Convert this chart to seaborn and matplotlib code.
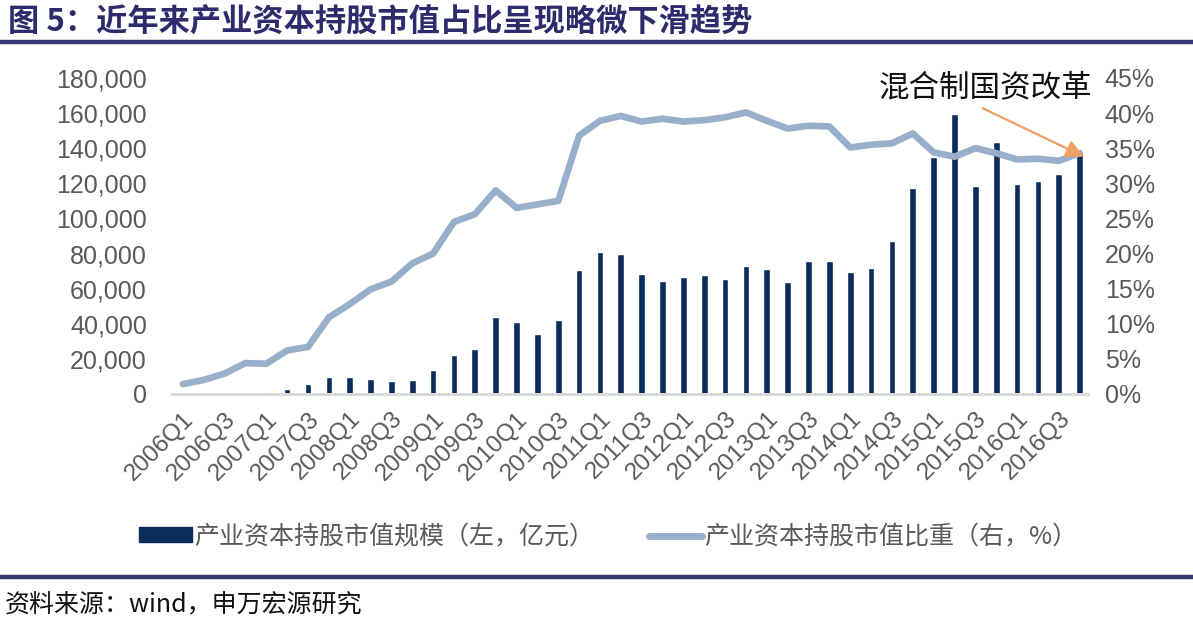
import numpy as np
import pandas as pd
import matplotlib
matplotlib.use("Agg")
import matplotlib.pyplot as plt
from matplotlib.patches import Patch
from matplotlib.lines import Line2D
from matplotlib.ticker import FuncFormatter, MultipleLocator
import seaborn as sns

# ---------------- data ----------------
quarters = [f"{y}Q{q}" for y in range(2006, 2017) for q in range(1, 5)]
market_value = [0, 0, 0, 500, 1000, 3000, 5700, 9900, 9800, 8700, 7600, 8000,
                13500, 22200, 25400, 43800, 41200, 34200, 42000, 70800, 80700, 79700,
                68200, 64300, 66800, 67800, 65300, 72900, 71400, 63600, 75900, 75600,
                69300, 71900, 87100, 117100, 135100, 159300, 118500, 143300, 119600,
                121300, 125100, 137000]
ratio_pct = [1.4, 2.0, 2.9, 4.4, 4.3, 6.2, 6.7, 10.9, 12.8, 14.9, 16.0, 18.6,
             20.0, 24.5, 25.6, 29.0, 26.5, 27.0, 27.5, 36.8, 38.9, 39.6,
             38.8, 39.2, 38.8, 39.0, 39.4, 40.1, 38.9, 37.8, 38.2, 38.1,
             35.1, 35.5, 35.7, 37.1, 34.4, 33.8, 35.0, 34.3, 33.4, 33.5, 33.2, 34.3]
tick_labels = quarters[::2]

title = "图 5：近年来产业资本持股市值占比呈现略微下滑趋势"
source = "资料来源：wind，申万宏源研究"
bar_label = "产业资本持股市值规模（左，亿元）"
line_label = "产业资本持股市值比重（右，%）"
annot_text = "混合制国资改革"

df = pd.DataFrame({"quarter": quarters, "value": market_value, "ratio": ratio_pct})

# ---------------- style ----------------
sns.set_theme(style="white")
plt.rcParams["font.family"] = ["Liberation Sans", "Noto Sans CJK SC", "DejaVu Sans"]

NAVY = "#0c2d5c"
LIGHT = "#98afcb"
GRAY_TXT = "#595959"
TITLE_C = "#2d2b6b"

fig = plt.figure(figsize=(11.93, 6.22), dpi=100)
ax = fig.add_axes([0.144, 0.3666, 0.768, 0.508])
ax2 = ax.twinx()

sns.barplot(data=df, x="quarter", y="value", color=NAVY, saturation=1,
            width=0.32, ax=ax, zorder=2)
sns.lineplot(data=df, x="quarter", y="ratio", color=LIGHT, linewidth=4.8,
             ax=ax2, sort=False, zorder=3)

ax.set_xlim(-0.53, 43.4)
ax.set_ylim(0, 180000)
ax2.set_ylim(0, 45)
ax.yaxis.set_major_locator(MultipleLocator(20000))
ax2.yaxis.set_major_locator(MultipleLocator(5))
ax.yaxis.set_major_formatter(FuncFormatter(lambda v, p: f"{int(v):,}"))
ax2.yaxis.set_major_formatter(FuncFormatter(lambda v, p: f"{int(v)}%"))

ax.set_xticks(range(0, len(quarters), 2))
ax.set_xticklabels(tick_labels, rotation=45, ha="right", va="top",
                   rotation_mode="anchor", fontsize=17.5, color=GRAY_TXT)
ax.tick_params(axis="x", length=0, pad=10)
ax.tick_params(axis="y", length=0, labelsize=18, labelcolor=GRAY_TXT, pad=18)
ax2.tick_params(axis="y", length=0, labelsize=18, labelcolor=GRAY_TXT, pad=12)
ax.set_xlabel("")
ax.set_ylabel("")
ax2.set_xlabel("")
ax2.set_ylabel("")

for a in (ax, ax2):
    for s in ("top", "left", "right"):
        a.spines[s].set_visible(False)
    a.spines["bottom"].set_color("#d9d9d9")
    a.spines["bottom"].set_linewidth(2)
    a.grid(False)

ax2.annotate("", xy=(43.2, 33.8), xytext=(38.35, 40.7),
             arrowprops=dict(arrowstyle="-|>,head_length=0.9,head_width=0.45",
                             color="#f0a060", lw=1.6, shrinkA=0, shrinkB=0))
ax2.text(38.5, 43.6, annot_text, ha="center", va="center", fontsize=22,
         color="#111111", family=["Noto Sans CJK SC"])

handles = [Patch(facecolor=NAVY, edgecolor=NAVY),
           Line2D([0], [0], color=LIGHT, linewidth=5)]
fig.legend(handles, [bar_label, line_label], loc="center",
           bbox_to_anchor=(0.51, 0.137), ncol=2, frameon=False,
           handlelength=2.1, handleheight=0.55, columnspacing=2.2,
           handletextpad=0.1, labelcolor=GRAY_TXT,
           prop={"family": ["Noto Sans CJK SC"], "size": 18})

fig.text(0.007, 0.963, title, ha="left", va="center", fontsize=22.5,
         fontweight="bold", color=TITLE_C, family=["Noto Sans CJK SC"])
fig.add_artist(Line2D([0, 1], [0.932, 0.932], color="#3a3872", linewidth=3.2,
                      transform=fig.transFigure))
fig.add_artist(Line2D([0, 1], [0.072, 0.072], color="#3a3872", linewidth=3.2,
                      transform=fig.transFigure))
fig.text(0.004, 0.027, source, ha="left", va="center", fontsize=18,
         color="#111111", family=["Noto Sans CJK SC"])

fig.savefig("out.png", dpi=100, facecolor="white")
